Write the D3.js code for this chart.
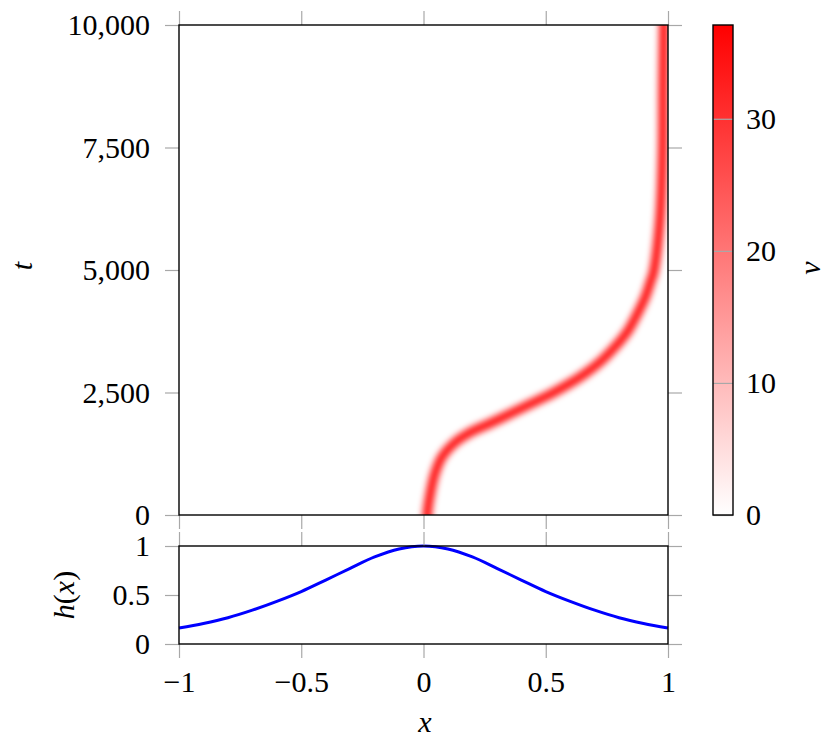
<!DOCTYPE html>
<html>
<head>
<meta charset="utf-8">
<script src="https://cdn.jsdelivr.net/npm/d3@7"></script>
<style>
  body { margin: 0; background: #fff; }
  text { font-family: "Liberation Serif", "Times New Roman", serif; }
</style>
</head>
<body>
<div id="chart"></div>
<script>
(function() {

    // centre line of the red ridge of v(x, t)
    var ridgeT = [0, 440, 850, 1190, 1460, 1670, 1870, 2080, 2280, 2480, 2690, 2890, 3160, 3440, 3780, 4120, 4460, 4800, 4930, 6020, 7380, 8740, 10000];
    var ridgeX = [0.015, 0.028, 0.047, 0.076, 0.124, 0.186, 0.272, 0.361, 0.443, 0.525, 0.600, 0.662, 0.730, 0.785, 0.839, 0.876, 0.908, 0.931, 0.940, 0.967, 0.978, 0.980, 0.983];

    // h(x) in the lower panel
    var hX = [-1, -0.9, -0.8, -0.7, -0.6, -0.5, -0.4, -0.3, -0.2, -0.1, 0, 0.1, 0.2, 0.3, 0.4, 0.5, 0.6, 0.7, 0.8, 0.9, 1];
    var hY = [0.164, 0.21, 0.268, 0.345, 0.435, 0.535, 0.652, 0.772, 0.888, 0.97, 1, 0.97, 0.888, 0.772, 0.652, 0.535, 0.435, 0.345, 0.268, 0.21, 0.164];

    var xTicks = [-1, -0.5, 0, 0.5, 1];
    var tTicks = [0, 2500, 5000, 7500, 10000];
    var hTicks = [0, 0.5, 1];
    var vTicks = [0, 10, 20, 30];
    var vMax = 37.1;
    var ridgePeak = 28;

    var width = 830;
    var height = 746;
    var left = 179, right = 668;
    var mainTop = 25, mainBottom = 515;
    var lowTop = 546, lowBottom = 644;
    var cbLeft = 713, cbRight = 733;
    var tickLen = 14;
    var fontSize = "30px";

    var svg = d3.select("#chart").append("svg")
        .attr("width", width)
        .attr("height", height);

    var x = d3.scaleLinear().domain([-1, 1]).range([left, right]);
    var t = d3.scaleLinear().domain([0, 10000]).range([mainBottom, mainTop]);
    var h = d3.scaleLinear().domain([0, 1]).range([lowBottom, lowTop]);
    var cb = d3.scaleLinear().domain([0, vMax]).range([mainBottom, mainTop]);
    var colour = d3.scaleLinear().domain([0, vMax]).range(["#ffffff", "#ff0000"]);

    var defs = svg.append("defs");
    defs.append("clipPath").attr("id", "mainClip")
      .append("rect")
        .attr("x", left).attr("y", mainTop)
        .attr("width", right - left).attr("height", mainBottom - mainTop);
    defs.append("filter").attr("id", "ridgeBlur")
        .attr("filterUnits", "userSpaceOnUse")
        .attr("x", 0).attr("y", 0).attr("width", width).attr("height", height)
      .append("feGaussianBlur").attr("stdDeviation", 3.3);

    var grad = defs.append("linearGradient").attr("id", "cbGrad")
        .attr("x1", 0).attr("y1", 1).attr("x2", 0).attr("y2", 0);
    grad.selectAll("stop")
      .data([0, vMax])
      .enter().append("stop")
        .attr("offset", function(d) { return d / vMax; })
        .attr("stop-color", function(d) { return colour(d); });

    // ridge of the heat map
    var pts = ridgeT.map(function(d, i) { return [x(ridgeX[i]), t(d)]; });
    var first = pts[0], last = pts[pts.length - 1];
    pts.unshift([first[0], first[1] + 16]);
    pts.push([last[0], last[1] - 16]);

    svg.append("g").attr("clip-path", "url(#mainClip)")
      .append("path")
        .attr("d", d3.line().curve(d3.curveCatmullRom.alpha(0.5))(pts))
        .attr("fill", "none")
        .attr("stroke", "#ff0000")
        .attr("stroke-opacity", (ridgePeak / vMax) / 0.84)
        .attr("stroke-width", 9.5)
        .attr("filter", "url(#ridgeBlur)");

    // h(x)
    svg.append("path")
        .datum(hX)
        .attr("d", d3.line()
            .x(function(d) { return x(d); })
            .y(function(d, i) { return h(hY[i]); })
            .curve(d3.curveCatmullRom.alpha(0.5)))
        .attr("fill", "none")
        .attr("stroke", "#0000ff")
        .attr("stroke-width", 3);

    function styleAxis(g, showText) {
        g.select(".domain").remove();
        g.selectAll(".tick line").attr("stroke", "#a8a8a8").attr("stroke-width", 1.2);
        g.selectAll("text").attr("fill", "#000").style("font-size", fontSize);
        if (!showText) g.selectAll("text").remove();
    }

    var fmt = d3.format("");

    // main panel ticks
    svg.append("g").attr("transform", "translate(" + left + ",0)")
        .call(d3.axisLeft(t).tickValues(tTicks).tickSize(tickLen).tickPadding(15).tickFormat(d3.format(",")))
        .call(styleAxis, true);
    svg.append("g").attr("transform", "translate(" + right + ",0)")
        .call(d3.axisRight(t).tickValues(tTicks).tickSize(tickLen))
        .call(styleAxis, false);
    svg.append("g").attr("transform", "translate(0," + mainTop + ")")
        .call(d3.axisTop(x).tickValues(xTicks).tickSize(tickLen))
        .call(styleAxis, false);
    svg.append("g").attr("transform", "translate(0," + mainBottom + ")")
        .call(d3.axisBottom(x).tickValues(xTicks).tickSize(tickLen))
        .call(styleAxis, false);

    // lower panel ticks
    svg.append("g").attr("transform", "translate(" + left + ",0)")
        .call(d3.axisLeft(h).tickValues(hTicks).tickSize(tickLen).tickPadding(15).tickFormat(fmt))
        .call(styleAxis, true);
    svg.append("g").attr("transform", "translate(" + right + ",0)")
        .call(d3.axisRight(h).tickValues(hTicks).tickSize(tickLen))
        .call(styleAxis, false);
    svg.append("g").attr("transform", "translate(0," + lowTop + ")")
        .call(d3.axisTop(x).tickValues(xTicks).tickSize(tickLen))
        .call(styleAxis, false);
    svg.append("g").attr("transform", "translate(0," + lowBottom + ")")
        .call(d3.axisBottom(x).tickValues(xTicks).tickSize(tickLen).tickPadding(13).tickFormat(fmt))
        .call(styleAxis, true);

    // frames
    svg.append("rect")
        .attr("x", left).attr("y", mainTop)
        .attr("width", right - left).attr("height", mainBottom - mainTop)
        .attr("fill", "none").attr("stroke", "#000").attr("stroke-width", 1.4);
    svg.append("rect")
        .attr("x", left).attr("y", lowTop)
        .attr("width", right - left).attr("height", lowBottom - lowTop)
        .attr("fill", "none").attr("stroke", "#000").attr("stroke-width", 1.4);

    // colour bar
    svg.append("rect")
        .attr("x", cbLeft).attr("y", mainTop)
        .attr("width", cbRight - cbLeft).attr("height", mainBottom - mainTop)
        .attr("fill", "url(#cbGrad)");
    svg.append("g").attr("transform", "translate(" + cbRight + ",0)")
        .call(d3.axisRight(cb).tickValues(vTicks).tickSizeInner(-(cbRight - cbLeft)).tickSizeOuter(0).tickPadding(13).tickFormat(fmt))
        .call(styleAxis, true);
    svg.append("rect")
        .attr("x", cbLeft).attr("y", mainTop)
        .attr("width", cbRight - cbLeft).attr("height", mainBottom - mainTop)
        .attr("fill", "none").attr("stroke", "#000").attr("stroke-width", 1.4);

    // axis labels
    function label(px, py, rot, parts) {
        var txt = svg.append("text")
            .attr("transform", "translate(" + px + "," + py + ") rotate(" + rot + ")")
            .attr("text-anchor", "middle")
            .style("font-size", fontSize);
        parts.forEach(function(p) {
            txt.append("tspan").attr("font-style", p[1] ? "italic" : "normal").text(p[0]);
        });
    }
    label(32, 266, -90, [["t", true]]);
    label(74, 595, -90, [["h", true], ["(", false], ["x", true], [")", false]]);
    label(425, 732, 0, [["x", true]]);
    label(820, 268, -90, [["v", true]]);

})();
</script>
</body>
</html>
